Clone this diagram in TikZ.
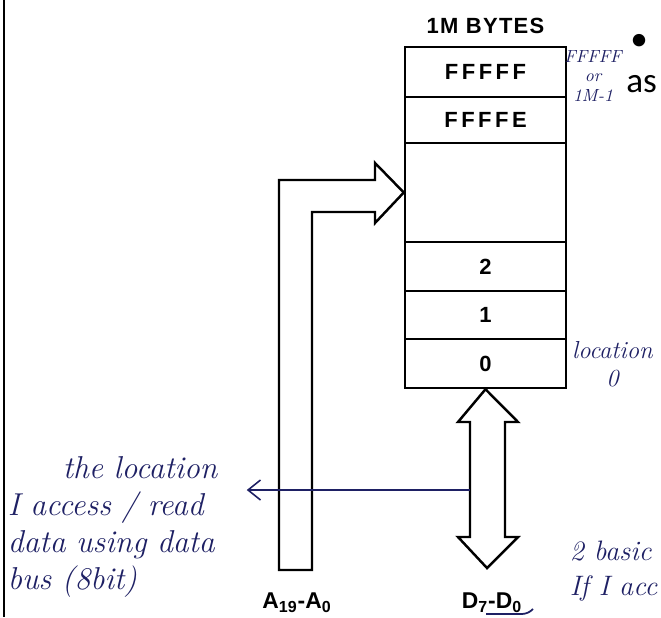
\documentclass[tikz,border=0pt]{standalone}
\usepackage{fontspec}
\newfontfamily\cellfont[LetterSpace=16]{Liberation Sans}
\newfontfamily\titlefont[LetterSpace=6]{Liberation Sans}
\newfontfamily\busfont{Liberation Sans}
\newfontfamily\pagefont{Carlito}
\usetikzlibrary{positioning, arrows.meta}
\definecolor{ink}{RGB}{30,32,100}

\begin{document}
\begin{tikzpicture}[
		x=0.2mm, y=-0.2mm,
		>=Stealth,
		cell/.style={draw, line width=1.4pt, minimum width=3.22cm, inner sep=0pt, font=\cellfont\bfseries\fontsize{12.5}{14}\selectfont},
		bus/.style={draw, line width=1.4pt, line join=miter, fill=white},
		buslabel/.style={font=\busfont\bfseries\fontsize{13}{15}\selectfont},
		hand/.style={text=ink, font=\itshape\fontsize{18}{21}\selectfont, align=left, inner sep=2pt},
		pointer/.style={draw=ink, line width=0.9pt, -{Straight Barb[length=2.5mm, width=4mm]}}
		]
		\useasboundingbox (0,0) rectangle (661,617);
		
		% page edge
		\draw[line width=1.5pt] (4,0) -- (4,617);
		
		% --- MEMORY (1M BYTES) ---
		\foreach \name/\y/\h/\txt in {m5/72/50/FFFFF, m4/120/46/FFFFE, mgap/192.5/99/{}, m2/266.5/49/2, m1/315/48/1, m0/363.5/49/0} {
			\node[cell, minimum height=\h*0.2mm] (\name) at (485.5,\y) {\txt};
		}
		\node[above=0.12cm of m5, font=\titlefont\bfseries\fontsize{12.5}{14}\selectfont] (title) {1M BYTES};
		
		% --- ADDRESS BUS ---
		\draw[bus] (279,570) -- (279,180) -- (375,180) -- (375,163) -- (mgap.west)
			-- (375,223) -- (375,212) -- (312,212) -- (312,570) -- cycle;
		\node[buslabel] (alabel) at (297,603) {A\textsubscript{19}-A\textsubscript{0}};
		
		% --- DATA BUS ---
		\draw[bus] (m0.south) -- (518,422) -- (505,422) -- (505,537) -- (518,537) -- (487,568)
			-- (458,537) -- (470,537) -- (470,422) -- (458,422) -- cycle;
		\node[buslabel] (dlabel) at (492,603) {D\textsubscript{7}-D\textsubscript{0}};
		\draw[ink, line width=1pt] (486,614) -- (522,614) to[bend right=20] (533,609);
		
		% --- HANDWRITTEN NOTES ---
		\node[hand, text width=4.7cm, anchor=west] (note) at (4,527) {\hspace*{1.1cm}the location\\ I access / read\\ data using data\\ bus (8bit)};
		\coordinate (dtap) at (470,490);
		\draw[pointer] (dtap) -- (note.east |- dtap);
		
		\node[hand, font=\itshape\fontsize{10}{11}\selectfont, align=center] (topnote) at (593,76) {FFFFF\\or\\1M-1};
		\node[hand, font=\itshape\fontsize{14}{16}\selectfont, align=center, anchor=west, inner sep=1pt] (locnote) at (570,364) {location\\0};
		\node[hand, font=\itshape\fontsize{16}{20}\selectfont, anchor=west] (basicnote) at (566,571) {2 basic\\ If I acc};
		
		% --- PAGE TEXT ---
		\node[font=\pagefont\fontsize{20}{20}\selectfont, anchor=west, inner sep=0pt] (pagetxt1) at (630,42) {•};
		\node[font=\pagefont\fontsize{20}{20}\selectfont, anchor=west, inner sep=0pt] (pagetxt2) at (626,84) {as};
		
	\end{tikzpicture}
\end{document}
